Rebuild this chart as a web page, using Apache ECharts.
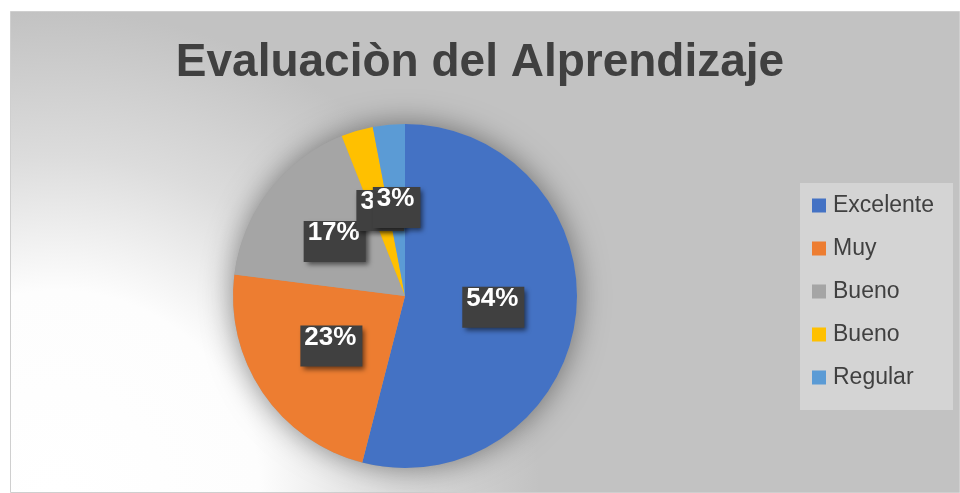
<!DOCTYPE html>
<html>
<head>
<meta charset="utf-8">
<title>Evaluaciòn del Alprendizaje</title>
<script src="https://cdn.jsdelivr.net/npm/echarts@6/dist/echarts.min.js"></script>
<style>
  html, body { margin: 0; padding: 0; background: #ffffff; }
  #mychart { width: 960px; height: 493px; }
</style>
</head>
<body>
<div id="mychart"></div>
<script>
// datos
var chartTitle = 'Evaluaciòn del Alprendizaje';
var categories = ['Excelente', 'Muy', 'Bueno', 'Bueno', 'Regular'];
var percents = [54, 23, 17, 3, 3];
var colors = ['#4472c4', '#ed7d31', '#a5a5a5', '#ffc000', '#5b9bd5'];

var pieCenter = [405, 296];
var pieRadius = 172;
var fontName = '"Liberation Sans", Arial, sans-serif';

// nombres repetidos ("Bueno" x2) -> clave unica con espacios al final
var seen = {};
var keys = categories.map(function (c) {
  seen[c] = (seen[c] || 0) + 1;
  return c + new Array(seen[c]).join(' ');
});

var pieData = keys.map(function (k, i) {
  return { name: k, value: percents[i], itemStyle: { color: colors[i] } };
});

var myChart = echarts.init(document.getElementById('mychart'));

var option = {
  backgroundColor: '#ffffff',
  animation: false,
  graphic: [{
    type: 'rect',
    silent: true,
    z: -10,
    shape: { x: 10.5, y: 11.5, width: 949, height: 481 },
    style: {
      stroke: '#cfcfcf',
      lineWidth: 1,
      fill: {
        type: 'radial', x: 0.05, y: 1.0, r: 1.0,
        colorStops: [
          { offset: 0, color: '#ffffff' },
          { offset: 0.42, color: '#fdfdfd' },
          { offset: 0.7, color: '#dcdcdc' },
          { offset: 1, color: '#c2c2c2' }
        ]
      }
    }
  }],
  title: {
    text: chartTitle,
    left: 'center',
    top: 35,
    textStyle: {
      fontFamily: fontName,
      fontSize: 46,
      fontWeight: 'bold',
      color: '#404040'
    }
  },
  legend: {
    orient: 'vertical',
    left: 800,
    top: 183,
    data: keys,
    backgroundColor: '#d4d4d4',
    padding: [11, 19, 21, 12],
    itemWidth: 14,
    itemHeight: 14,
    itemGap: 20,
    icon: 'rect',
    selectedMode: false,
    formatter: function (name) { return name.trim(); },
    textStyle: {
      fontFamily: fontName,
      fontSize: 23,
      lineHeight: 23,
      color: '#404040',
      padding: [0, 0, 0, 2]
    }
  },
  series: [
    {
      // sombra suave debajo del pastel
      type: 'pie',
      silent: true,
      z: 1,
      center: pieCenter,
      radius: pieRadius,
      label: { show: false },
      labelLine: { show: false },
      data: [{ name: 'sombra', value: 1 }],
      itemStyle: {
        color: '#a0a0a0',
        shadowBlur: 30,
        shadowColor: 'rgba(0,0,0,0.45)'
      }
    },
    {
      type: 'pie',
      z: 2,
      center: pieCenter,
      radius: pieRadius,
      startAngle: 90,
      clockwise: true,
      avoidLabelOverlap: false,
      labelLayout: { hideOverlap: false },
      data: pieData,
      labelLine: { show: false },
      label: {
        show: true,
        position: 'inside',
        // texto arriba, hueco abajo (como la caja de Excel)
        formatter: '{t|{d}%}\n{e| }',
        backgroundColor: '#404040',
        padding: [0, 6, 0, 4],
        shadowColor: 'rgba(0,0,0,0.55)',
        shadowBlur: 5,
        shadowOffsetX: 3,
        shadowOffsetY: 3,
        rich: {
          t: {
            fontFamily: fontName,
            fontSize: 26,
            fontWeight: 'bold',
            color: '#ffffff',
            lineHeight: 24
          },
          e: {
            fontSize: 10,
            lineHeight: 17
          }
        }
      }
    }
  ]
};

option && myChart.setOption(option);
</script>
</body>
</html>
